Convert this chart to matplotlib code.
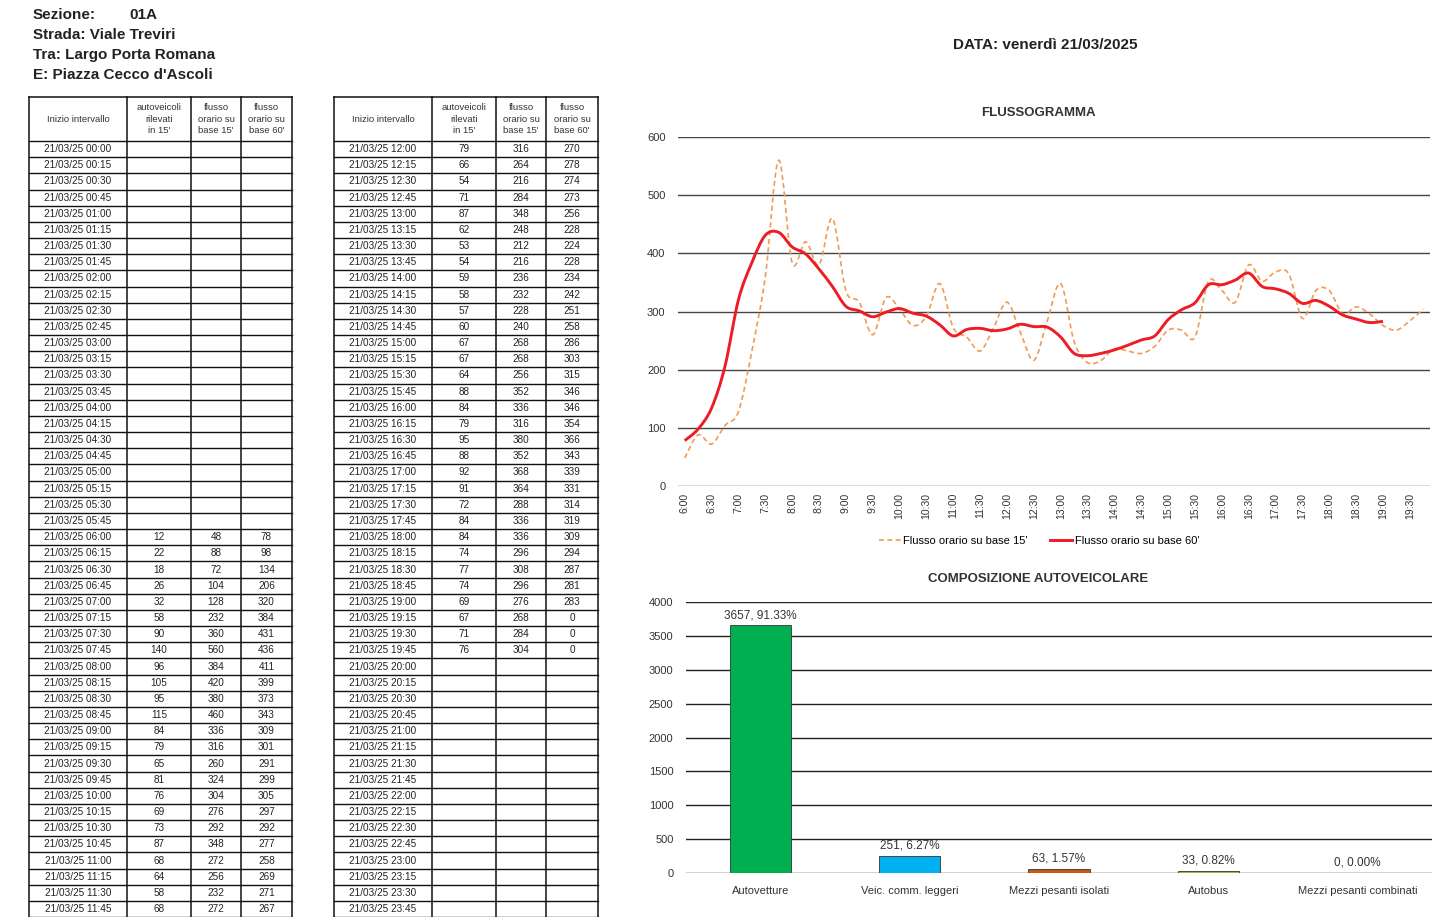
import numpy as np
import matplotlib
matplotlib.use("Agg")
import matplotlib.pyplot as plt
from matplotlib.path import Path
from matplotlib.patches import PathPatch
from matplotlib.lines import Line2D

plt.rcParams['font.family'] = ['Liberation Sans', 'DejaVu Sans']

W, H = 1453, 917

SEZIONE = "01A"
STRADA = "Viale Treviri"
TRA = "Largo Porta Romana"
E = "Piazza Cecco d'Ascoli"
DATA = "venerdì 21/03/2025"
GIORNO = "21/03/25"

# quarter hours with counts: 06:00 .. 19:45
ore = [f"{h}:{m:02d}" for h in range(6, 20) for m in (0, 15, 30, 45)]
veicoli_15 = [12, 22, 18, 26, 32, 58, 90, 140, 96, 105, 95, 115,
              84, 79, 65, 81, 76, 69, 73, 87, 68, 64, 58, 68,
              79, 66, 54, 71, 87, 62, 53, 54, 59, 58, 57, 60,
              67, 67, 64, 88, 84, 79, 95, 88, 92, 91, 72, 84,
              84, 74, 77, 74, 69, 67, 71, 76]
flusso_15 = [48, 88, 72, 104, 128, 232, 360, 560, 384, 420, 380, 460,
             336, 316, 260, 324, 304, 276, 292, 348, 272, 256, 232, 272,
             316, 264, 216, 284, 348, 248, 212, 216, 236, 232, 228, 240,
             268, 268, 256, 352, 336, 316, 380, 352, 368, 364, 288, 336,
             336, 296, 308, 296, 276, 268, 284, 304]
flusso_60 = [78, 98, 134, 206, 320, 384, 431, 436, 411, 399, 373, 343,
             309, 301, 291, 299, 305, 297, 292, 277, 258, 269, 271, 267,
             270, 278, 274, 273, 256, 228, 224, 228, 234, 242, 251, 258,
             286, 303, 315, 346, 346, 354, 366, 343, 339, 331, 314, 319,
             309, 294, 287, 281, 283, 0, 0, 0]

categorie = ["Autovetture", "Veic. comm. leggeri", "Mezzi pesanti isolati",
             "Autobus", "Mezzi pesanti combinati"]
composizione = [3657, 251, 63, 33, 0]
colori_barre = ["#00B050", "#00B0F0", "#C55A11", "#A5B33C", "#7F7F7F"]


def smooth_path(xs, ys):
    # Excel-like smoothed line: cubic bezier through every point
    pts = np.column_stack([xs, ys]).astype(float)
    n = len(pts)
    verts = [pts[0]]
    codes = [Path.MOVETO]
    for i in range(n - 1):
        p0 = pts[max(i - 1, 0)]
        p1 = pts[i]
        p2 = pts[i + 1]
        p3 = pts[min(i + 2, n - 1)]
        verts += [p1 + (p2 - p0) / 6, p2 - (p3 - p1) / 6, p2]
        codes += [Path.CURVE4] * 3
    return Path(verts, codes)


fig = plt.figure(figsize=(W / 100, H / 100), dpi=100)

# page layer in pixel coordinates: header and tables
bg = fig.add_axes([0, 0, 1, 1])
bg.set_xlim(0, W)
bg.set_ylim(H, 0)
bg.axis("off")

hdr = dict(fontsize=11, fontweight="bold", color="#222", va="center")
bg.text(33, 15, "Sezione:", **hdr)
bg.text(129, 15, SEZIONE, **hdr)
bg.text(33, 35, "Strada: " + STRADA, **hdr)
bg.text(33, 55, "Tra: " + TRA, **hdr)
bg.text(33, 75, "E: " + E, **hdr)
bg.text(953, 45, "DATA: " + DATA, fontsize=11, fontweight="bold",
        color="#222", va="center")
bg.text(1038, 113, "FLUSSOGRAMMA", fontsize=9.5, fontweight="bold",
        color="#333", ha="center", va="center")
bg.text(1038, 579, "COMPOSIZIONE AUTOVEICOLARE", fontsize=9.5,
        fontweight="bold", color="#333", ha="center", va="center")

# tables
col_heads = ["Inizio intervallo", "autoveicoli\nrilevati\nin 15'",
             "flusso\norario su\nbase 15'", "flusso\norario su\nbase 60'"]
top, head_bot, row_h = 97, 141, 16.17
first = 6 * 4  # index of 06:00 among the 96 quarter hours
tables = [(0, [29, 127, 191, 241, 292]), (48, [334, 432, 496, 546, 598])]
for start, xs in tables:
    for x in xs:
        bg.plot([x, x], [top, H], color="#111", lw=1.1)
    bg.plot([xs[0], xs[-1]], [top, top], color="#111", lw=1.1)
    for k in range(49):
        y = head_bot + k * row_h
        bg.plot([xs[0], xs[-1]], [y, y], color="#111", lw=1.0)
    for c, lab in enumerate(col_heads):
        bg.text((xs[c] + xs[c + 1]) / 2, (top + head_bot) / 2, lab,
                fontsize=6.8, color="#333", ha="center", va="center",
                linespacing=1.3)
    for r in range(48):
        idx = start + r
        yc = head_bot + (r + 0.5) * row_h
        hh, mm = divmod(idx * 15, 60)
        bg.text((xs[0] + xs[1]) / 2, yc, f"{GIORNO} {hh:02d}:{mm:02d}",
                fontsize=7.2, color="#222", ha="center", va="center")
        j = idx - first
        if 0 <= j < len(veicoli_15):
            for c, v in enumerate([veicoli_15[j], flusso_15[j], flusso_60[j]]):
                bg.text((xs[c + 1] + xs[c + 2]) / 2, yc, str(v), fontsize=7.2,
                        color="#222", ha="center", va="center")

# flussogramma
ax = fig.add_axes([678 / W, 1 - 486 / H, 752 / W, 349 / H])
x = np.arange(len(ore))
ax.add_patch(PathPatch(smooth_path(x, flusso_15), fill=False,
                       edgecolor="#EE9B55", lw=1.2, linestyle=(0, (3, 2))))
n60 = sum(1 for v in flusso_60 if v > 0)
ax.add_patch(PathPatch(smooth_path(x[:n60], flusso_60[:n60]), fill=False,
                       edgecolor="#EE1C25", lw=2.1))
ax.set_xlim(-0.5, len(ore) - 0.5)
ax.set_ylim(0, 600)
ax.set_yticks(range(0, 601, 100))
ax.set_xticks(x[::2])
ax.set_xticklabels(ore[::2], rotation=90, fontsize=7.5, color="#333")
ax.tick_params(axis="y", labelsize=8, labelcolor="#333", length=0, pad=9)
ax.tick_params(axis="x", length=0, pad=5)
ax.grid(axis="y", color="#444", lw=1.0)
ax.set_axisbelow(True)
for s in ax.spines.values():
    s.set_visible(False)
handles = [Line2D([], [], color="#EE9B55", lw=1.2, linestyle=(0, (3, 2))),
           Line2D([], [], color="#EE1C25", lw=2.1)]
ax.legend(handles, ["Flusso orario su base 15'", "Flusso orario su base 60'"],
          loc="center", bbox_to_anchor=(0.48, -0.158), ncol=2, frameon=False,
          fontsize=8, handlelength=2.0, handletextpad=0.2, columnspacing=2.0)

# composizione autoveicolare
bx = fig.add_axes([686 / W, 1 - 873 / H, 746 / W, 271 / H])
totale = sum(composizione)
pos = np.arange(len(categorie))
bx.bar(pos, composizione, width=0.41, color=colori_barre,
       edgecolor="#333", lw=0.6, zorder=3)
for p, v in zip(pos, composizione):
    bx.annotate(f"{v}, {v / totale * 100:.2f}%", (p, v), xytext=(0, 3),
                textcoords="offset points", ha="center", va="bottom",
                fontsize=8.5, color="#333")
bx.set_xlim(-0.5, len(categorie) - 0.5)
bx.set_ylim(0, 4000)
bx.set_yticks(range(0, 4001, 500))
bx.set_xticks(pos)
bx.set_xticklabels(categorie, fontsize=8, color="#333")
bx.tick_params(axis="y", labelsize=8, labelcolor="#333", length=0, pad=9)
bx.tick_params(axis="x", length=0, pad=9)
bx.grid(axis="y", color="#222", lw=1.0)
bx.set_axisbelow(True)
for s in bx.spines.values():
    s.set_visible(False)

fig.savefig("out.png", dpi=100)
